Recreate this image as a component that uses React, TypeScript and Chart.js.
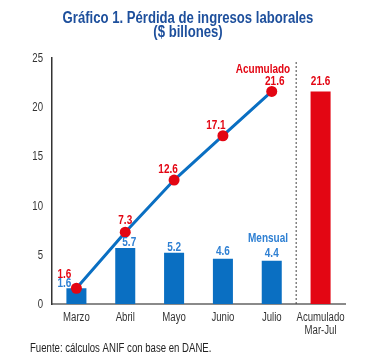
import React, { useEffect, useRef } from "react";
import { Chart, registerables } from "chart.js";

Chart.register(...registerables);

const categories: string[][] = [["Marzo"], ["Abril"], ["Mayo"], ["Junio"], ["Julio"], ["Acumulado", "Mar-Jul"]];
const monthlyLoss = [1.6, 5.7, 5.2, 4.6, 4.4];
const cumulativeLoss = [1.6, 7.3, 12.6, 17.1, 21.6];
const totalMarJul = 21.6;
const yTicks = [0, 5, 10, 15, 20, 25];

const BLUE = "#0A6FC2";
const BLUE_TXT = "#2F80D3";
const RED = "#E30613";
const TITLE = "#1D4F9C";
const FONT = "'Liberation Sans', Arial, sans-serif";
const SX = 0.8;

function narrow(ctx: CanvasRenderingContext2D, text: string, x: number, y: number, align: CanvasTextAlign, sx = SX) {
  ctx.save();
  ctx.translate(x, y);
  ctx.scale(sx, 1);
  ctx.textAlign = align;
  ctx.fillText(text, 0, 0);
  ctx.restore();
}

export default function App() {
  const ref = useRef<HTMLCanvasElement>(null);
  useEffect(() => {
    document.body.style.margin = "0";
    const barData = [...monthlyLoss, totalMarJul];
    const lineData = [...cumulativeLoss, null];
    const labelsPlugin = {
      id: "labels",
      afterDatasetsDraw(chart: any) {
        const ctx = chart.ctx as CanvasRenderingContext2D;
        const area = chart.chartArea;
        const xs = chart.scales.x;
        const ys = chart.scales.y;
        ctx.save();
        // dashed separator
        const sepX = (xs.getPixelForValue(4) + xs.getPixelForValue(5)) / 2;
        ctx.strokeStyle = "#444";
        ctx.lineWidth = 1;
        ctx.setLineDash([2, 2]);
        ctx.beginPath();
        ctx.moveTo(sepX, area.top + 4);
        ctx.lineTo(sepX, area.bottom);
        ctx.stroke();
        ctx.setLineDash([]);
        ctx.textBaseline = "alphabetic";
        // tick labels
        ctx.font = `12px ${FONT}`;
        ctx.fillStyle = "#333";
        yTicks.forEach((v) => {
          narrow(ctx, String(v), 43, ys.getPixelForValue(v) + 4, "right");
        });
        categories.forEach((lines, i) => {
          const x = xs.getPixelForValue(i);
          lines.forEach((t, j) => narrow(ctx, t, x, 321 + j * 13, "center"));
        });
        ctx.font = `bold 12.5px ${FONT}`;
        // bar labels
        const barMeta = chart.getDatasetMeta(0);
        const bdy = [1, 2, 2, 4, 4, 6];
        const bdx = [-12, 4, 0, 0, 0, 0];
        barMeta.data.forEach((el: any, i: number) => {
          ctx.fillStyle = i === 5 ? RED : BLUE_TXT;
          narrow(ctx, barData[i].toFixed(1), el.x + bdx[i], el.y - bdy[i], "center");
        });
        // line labels
        const lineMeta = chart.getDatasetMeta(1);
        const dx = [-12, 0, -6, -7, 3];
        const dy = [10, 8, 7, 7, 6];
        lineMeta.data.forEach((el: any, i: number) => {
          if (lineData[i] == null) return;
          ctx.fillStyle = RED;
          narrow(ctx, (lineData[i] as number).toFixed(1), el.x + dx[i], el.y - dy[i], "center");
        });
        ctx.fillStyle = RED;
        narrow(ctx, "Acumulado", 263, 73, "center");
        ctx.fillStyle = BLUE_TXT;
        narrow(ctx, "Mensual", 268, 242, "center");
        // title
        ctx.fillStyle = TITLE;
        ctx.font = `bold 16px ${FONT}`;
        narrow(ctx, "Gráfico 1. Pérdida de ingresos laborales", 188, 23, "center", 0.82);
        narrow(ctx, "($ billones)", 188, 37, "center", 0.82);
        // footnote
        ctx.fillStyle = "#222";
        ctx.font = `12px ${FONT}`;
        narrow(ctx, "Fuente: cálculos ANIF con base en DANE.", 30, 352, "left");
        ctx.restore();
      },
    };
    const chart = new Chart(ref.current!, {
      type: "bar",
      data: {
        labels: categories.map((c) => c.join(" ")),
        datasets: [
          {
            type: "bar",
            data: barData,
            backgroundColor: barData.map((_, i) => (i === 5 ? RED : BLUE)),
            barPercentage: 0.41,
            categoryPercentage: 1,
            order: 2,
          },
          {
            type: "line",
            data: lineData,
            borderColor: BLUE,
            borderWidth: 3,
            pointRadius: 5.5,
            pointBackgroundColor: RED,
            pointBorderWidth: 0,
            order: 1,
          } as any,
        ],
      },
      options: {
        animation: false,
        responsive: false,
        layout: { padding: { top: 58, right: 42, left: 0, bottom: 0 } },
        plugins: { legend: { display: false }, tooltip: { enabled: false }, title: { display: false } },
        scales: {
          x: {
            grid: { display: false, drawTicks: false },
            border: { display: true, color: "#8a8a8a", width: 2 },
            ticks: { display: false },
            afterFit: (s: any) => { s.height = 60; },
          },
          y: {
            min: 0,
            max: 25,
            afterBuildTicks: (s: any) => { s.ticks = yTicks.map((v) => ({ value: v })); },
            grid: { display: false, drawTicks: false },
            border: { display: true, color: "#333", width: 1.5 },
            ticks: { display: false },
            afterFit: (s: any) => { s.width = 52; },
          },
        },
      },
      plugins: [labelsPlugin],
    });
    return () => chart.destroy();
  }, []);
  return (
    <div style={{ width: 387, height: 364, background: "#fff" }}>
      <canvas ref={ref} width={387} height={364} />
    </div>
  );
}
